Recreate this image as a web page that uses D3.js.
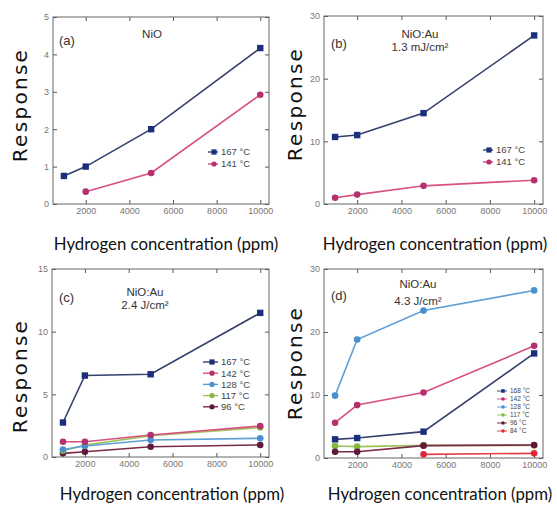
<!DOCTYPE html>
<html>
<head>
<meta charset="utf-8">
<script src="https://cdn.jsdelivr.net/npm/d3@7"></script>
<style>
body { margin: 0; background: #fff; }
</style>
</head>
<body>
<div id="fig"></div>
<script>
// hydrogen concentration (ppm) at which each response was measured
var ppm = [1000, 2000, 5000, 10000];
var xTicks = [2000, 4000, 6000, 8000, 10000];

// (a) NiO
var a167 = [0.75, 1.0, 2.0, 4.17];
var a141 = [null, 0.33, 0.83, 2.92];
// (b) NiO:Au 1.3 mJ/cm2
var b167 = [10.7, 11.0, 14.5, 26.9];
var b141 = [1.0, 1.5, 2.9, 3.8];
// (c) NiO:Au 2.4 J/cm2
var c167 = [2.75, 6.5, 6.6, 11.5];
var c142 = [1.22, 1.22, 1.75, 2.47];
var c128 = [0.6, 0.88, 1.36, 1.49];
var c117 = [0.5, 0.95, 1.7, 2.35];
var c96 = [0.29, 0.42, 0.82, 0.96];
// (d) NiO:Au 4.3 J/cm2
var d168 = [2.96, 3.17, 4.18, 16.6];
var d142 = [5.6, 8.4, 10.4, 17.8];
var d128 = [9.9, 18.8, 23.4, 26.6];
var d117 = [1.9, 1.8, 2.0, 2.0];
var d96 = [1.0, 1.0, 1.96, 2.06];
var d84 = [null, null, 0.58, 0.74];

var navy = {line: "#34406e", mark: "#1b2f7c"}
var pink = {line: "#d9507f", mark: "#b5306f"}
var sky = {line: "#5f9fd6", mark: "#4a90d0"}
var lime = {line: "#9cc45a", mark: "#86b840"}
var plum = {line: "#7a2a48", mark: "#5e1a38"}
var red = {line: "#e4404a", mark: "#e0283a"}

var panels = [
  {box: [53, 17, 269, 204], yMax: 5, yTicks: [0,1,2,3,4,5], tag: "(a)", title: ["NiO"],
   tagPos: [59, 45], titlePos: [152, 38, 13], yLab: [27, 105], xLab: [166, 250],
   leg: {x: 208, y: 152, dy: 12, w: 10, fs: 9.5}, reverse: true,
   series: [
     {name: "167 °C", v: a167, c: navy, sq: true},
     {name: "141 °C", v: a141, c: pink}
   ]},
  {box: [324, 16, 543, 204], yMax: 30, yTicks: [0,10,20,30], tag: "(b)", title: ["NiO:Au", "1.3 mJ/cm²"],
   tagPos: [331, 48], titlePos: [420, 38, 13], yLab: [302, 104], xLab: [435, 250],
   leg: {x: 483, y: 150, dy: 12, w: 10, fs: 9.5}, reverse: true,
   series: [
     {name: "167 °C", v: b167, c: navy, sq: true},
     {name: "141 °C", v: b141, c: pink}
   ]},
  {box: [52, 269, 269, 457], yMax: 15, yTicks: [0,5,10,15], tag: "(c)", title: ["NiO:Au", "2.4 J/cm²"],
   tagPos: [59, 302], titlePos: [145, 296, 13], yLab: [27, 376], xLab: [172, 500],
   leg: {x: 203, y: 362, dy: 11.2, w: 15, fs: 9.5}, reverse: true,
   series: [
     {name: "167 °C", v: c167, c: navy, sq: true},
     {name: "142 °C", v: c142, c: pink},
     {name: "128 °C", v: c128, c: sky},
     {name: "117 °C", v: c117, c: lime},
     {name: "96 °C", v: c96, c: plum}
   ]},
  {box: [324, 269, 543, 458], yMax: 30, yTicks: [0,10,20,30], tag: "(d)", title: ["NiO:Au", "4.3 J/cm²"],
   tagPos: [331, 300], titlePos: [418, 288, 17], yLab: [302, 363], xLab: [440, 500],
   leg: {x: 497, y: 391, dy: 8, w: 10, fs: 6.5}, reverse: false,
   series: [
     {name: "168 °C", v: d168, c: navy, sq: true},
     {name: "142 °C", v: d142, c: pink},
     {name: "128 °C", v: d128, c: sky},
     {name: "117 °C", v: d117, c: lime},
     {name: "96 °C", v: d96, c: plum},
     {name: "84 °C", v: d84, c: red}
   ]}
]

var svg = d3.select("#fig").append("svg")
  .attr("width", 557)
  .attr("height", 508)

panels.forEach(function(p) {
  var l = p.box[0], t = p.box[1], r = p.box[2], b = p.box[3]

  var x = d3.scaleLinear().domain([500, 10400]).range([l, r])
  var y = d3.scaleLinear().domain([0, p.yMax]).range([b, t])

  var g = svg.append("g")

  // ticks pointing inward on all four sides
  var ax = [
    [d3.axisBottom(x).tickValues(xTicks).tickFormat(d3.format("d")), "translate(0," + b + ")"],
    [d3.axisTop(x).tickValues(xTicks).tickFormat(""), "translate(0," + t + ")"],
    [d3.axisLeft(y).tickValues(p.yTicks).tickFormat(d3.format("d")), "translate(" + l + ",0)"],
    [d3.axisRight(y).tickValues(p.yTicks).tickFormat(""), "translate(" + r + ",0)"]
  ]
  ax.forEach(function(a) {
    var sel = g.append("g")
      .attr("transform", a[1])
      .call(a[0].tickSizeInner(-4).tickSizeOuter(0).tickPadding(4))
    sel.select(".domain").remove()
    sel.selectAll(".tick line").attr("stroke", "#555")
    sel.selectAll("text")
      .attr("fill", "#777")
      .style("font-family", "Liberation Sans, Arial, sans-serif")
      .style("font-size", "9px")
  })

  g.append("rect")
    .attr("x", l).attr("y", t)
    .attr("width", r - l).attr("height", b - t)
    .attr("fill", "none")
    .attr("stroke", "#666")
    .attr("stroke-width", 1)

  var line = d3.line()
    .defined(function(d) { return d[1] != null })
    .x(function(d) { return x(d[0]) })
    .y(function(d) { return y(d[1]) })

  var order = p.reverse ? p.series.slice().reverse() : p.series.slice()
  order.forEach(function(s) {
    var pts = ppm.map(function(c, i) { return [c, s.v[i]] })
    g.append("path")
      .datum(pts)
      .attr("d", line)
      .attr("fill", "none")
      .attr("stroke", s.c.line)
      .attr("stroke-width", 1.6)
    var ok = pts.filter(function(d) { return d[1] != null })
    if (s.sq) {
      g.selectAll(null).data(ok).enter().append("rect")
        .attr("x", function(d) { return x(d[0]) - 3.2 })
        .attr("y", function(d) { return y(d[1]) - 3.2 })
        .attr("width", 6.4).attr("height", 6.4)
        .attr("fill", s.c.mark)
    } else {
      g.selectAll(null).data(ok).enter().append("circle")
        .attr("cx", function(d) { return x(d[0]) })
        .attr("cy", function(d) { return y(d[1]) })
        .attr("r", 3.3)
        .attr("fill", s.c.mark)
    }
  })

  // legend
  var lg = p.leg
  p.series.forEach(function(s, i) {
    var yy = lg.y + i * lg.dy
    var ms = lg.fs / 9.5
    g.append("line")
      .attr("x1", lg.x).attr("x2", lg.x + lg.w)
      .attr("y1", yy).attr("y2", yy)
      .attr("stroke", s.c.line).attr("stroke-width", 1.4 * ms)
    if (s.sq) {
      g.append("rect")
        .attr("x", lg.x + lg.w * 0.6 - 2.6 * ms).attr("y", yy - 2.6 * ms)
        .attr("width", 5.2 * ms).attr("height", 5.2 * ms)
        .attr("fill", s.c.mark)
    } else {
      g.append("circle")
        .attr("cx", lg.x + lg.w * 0.6).attr("cy", yy)
        .attr("r", 2.6 * ms)
        .attr("fill", s.c.mark)
    }
    g.append("text")
      .attr("x", lg.x + lg.w + 3)
      .attr("y", yy + lg.fs * 0.36)
      .attr("fill", "#444")
      .style("font-family", "Liberation Sans, Arial, sans-serif")
      .style("font-size", lg.fs + "px")
      .text(s.name)
  })

  // panel tag and title
  g.append("text")
    .attr("x", p.tagPos[0]).attr("y", p.tagPos[1])
    .attr("fill", "#333")
    .style("font-family", "Liberation Sans, Arial, sans-serif")
    .style("font-size", "13px")
    .text(p.tag)
  p.title.forEach(function(tt, i) {
    g.append("text")
      .attr("x", p.titlePos[0])
      .attr("y", p.titlePos[1] + i * p.titlePos[2])
      .attr("text-anchor", "middle")
      .attr("fill", "#333")
      .style("font-family", "Liberation Sans, Arial, sans-serif")
      .style("font-size", "11.5px")
      .text(tt)
  })

  // axis titles
  svg.append("text")
    .attr("transform", "translate(" + p.yLab[0] + "," + p.yLab[1] + ") rotate(-90)")
    .attr("text-anchor", "middle")
    .attr("fill", "#111")
    .style("font-family", "DejaVu Sans, Verdana, sans-serif")
    .style("font-size", "20px")
    .style("letter-spacing", "2.3px")
    .text("Response")

  svg.append("text")
    .attr("x", p.xLab[0]).attr("y", p.xLab[1])
    .attr("text-anchor", "middle")
    .attr("fill", "#111")
    .style("font-family", "Lato, Open Sans, sans-serif")
    .style("font-size", "16.8px")
    .text("Hydrogen concentration (ppm)")
})
</script>
</body>
</html>
